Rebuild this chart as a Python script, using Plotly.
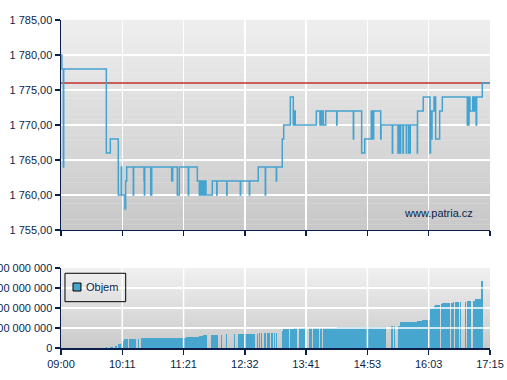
import plotly.graph_objects as go
import numpy as np

# ---------------- data ----------------
session_start = 540.0   # 09:00 in minutes from midnight
session_end = 1035.0    # 17:15
time_labels = ["09:00", "10:11", "11:21", "12:32", "13:41", "14:53", "16:03", "17:15"]
prev_close = 1776.0

price_time = [
    540.0, 541.0, 542.7, 543.1, 592.3, 596.9, 606.1, 609.6, 610.0, 613.8, 614.6, 615.8,
    623.4, 623.8, 635.8, 636.2, 636.6, 643.5, 643.9, 644.3, 644.7, 667.7, 668.1, 668.5,
    668.9, 674.2, 676.5, 686.9, 687.3, 697.3, 699.6, 700.4, 701.2, 702.0, 702.8, 703.6,
    704.4, 705.2, 706.0, 706.5, 707.3, 714.6, 719.7, 720.1, 731.2, 731.6, 746.9, 747.3,
    757.3, 757.7, 767.6, 775.7, 776.1, 788.4, 788.8, 795.3, 797.0, 804.6, 808.0, 808.8,
    809.3, 809.8, 810.3, 834.6, 838.8, 839.3, 840.3, 840.8, 842.6, 845.4, 858.1, 858.5,
    877.3, 877.7, 886.9, 890.4, 898.0, 898.6, 899.3, 900.0, 900.8, 908.9, 909.3, 922.3,
    922.7, 928.8, 929.4, 930.0, 930.6, 931.3, 932.0, 934.6, 935.0, 938.4, 938.8, 941.2,
    941.8, 942.4, 943.0, 951.1, 951.4, 958.0, 965.8, 966.4, 966.8, 967.3, 967.7, 968.1,
    970.4, 971.0, 971.6, 972.3, 976.9, 980.0, 1008.8, 1009.5, 1010.2, 1010.8, 1011.9, 1015.0,
    1015.5, 1016.2, 1016.8, 1017.5, 1018.2, 1019.0, 1019.6, 1026.1, 1035.0,
]
price_value = [
    1780, 1778, 1764, 1778, 1766, 1768, 1760, 1764, 1760, 1758, 1762, 1764,
    1760, 1764, 1762, 1760, 1764, 1760, 1764, 1760, 1764, 1762, 1764, 1762,
    1764, 1760, 1764, 1760, 1764, 1762, 1760, 1762, 1760, 1762, 1760, 1762,
    1760, 1762, 1760, 1762, 1760, 1762, 1760, 1762, 1760, 1762, 1760, 1762,
    1760, 1762, 1764, 1760, 1764, 1762, 1764, 1768, 1770, 1774, 1770, 1772,
    1770, 1772, 1770, 1772, 1770, 1772, 1770, 1772, 1770, 1772, 1770, 1772,
    1768, 1772, 1766, 1768, 1772, 1768, 1772, 1768, 1772, 1768, 1770, 1766,
    1770, 1766, 1770, 1766, 1770, 1766, 1770, 1766, 1770, 1766, 1770, 1766,
    1770, 1766, 1770, 1766, 1772, 1774, 1766, 1772, 1768, 1772, 1768, 1772,
    1774, 1772, 1774, 1768, 1772, 1774, 1770, 1774, 1770, 1774, 1772, 1774,
    1772, 1774, 1772, 1774, 1772, 1770, 1774, 1776, 1776,
]

# cumulative volume (Objem) blocks: start minute, end minute, value
vol_start = [
    591.6, 596.5, 602.3, 605.4, 608.9, 611.2, 612.7, 618.5, 628.5, 632.3, 684.2, 699.2,
    703.8, 712.7, 724.3, 730.0, 739.3, 743.9, 765.8, 768.1, 770.8, 774.2, 777.7, 782.7,
    786.1, 788.1, 795.0, 796.5, 804.2, 808.8, 814.3, 819.6, 822.3, 825.8, 827.3, 830.4,
    838.5, 842.3, 858.4, 920.8, 924.2, 928.8, 931.2, 950.8, 956.5, 965.8, 970.4, 971.9,
    978.5, 980.0, 990.0, 992.0, 994.6, 1000.0, 1006.2, 1008.5, 1015.4, 1017.7, 1024.6,
]
vol_end = [
    593.4, 600.3, 605.0, 608.9, 611.2, 612.7, 617.0, 626.2, 630.3, 684.2, 699.2, 703.8,
    708.1, 721.2, 725.4, 731.2, 740.4, 763.8, 767.6, 770.0, 772.3, 776.2, 781.5, 784.2,
    787.3, 789.2, 796.5, 803.1, 808.8, 812.6, 818.9, 821.2, 824.2, 826.9, 829.6, 837.3,
    841.1, 858.4, 915.0, 923.1, 925.4, 931.2, 950.8, 956.5, 965.8, 970.4, 971.9, 977.3,
    980.0, 988.8, 992.0, 993.8, 999.2, 1001.5, 1007.7, 1013.1, 1017.7, 1024.6, 1026.9,
]
vol_value = [
    10e6, 10e6, 20e6, 40e6, 53e6, 67e6, 87e6, 87e6, 87e6, 100e6, 110e6, 120e6,
    130e6, 130e6, 130e6, 140e6, 140e6, 140e6, 145e6, 150e6, 150e6, 150e6, 150e6, 150e6,
    150e6, 150e6, 173e6, 190e6, 190e6, 200e6, 200e6, 200e6, 200e6, 200e6, 200e6, 200e6,
    200e6, 200e6, 210e6, 220e6, 220e6, 220e6, 260e6, 270e6, 280e6, 400e6, 423e6, 430e6,
    443e6, 450e6, 450e6, 460e6, 460e6, 460e6, 460e6, 470e6, 470e6, 490e6, 670e6,
]
vol_ticks = [0, 200e6, 400e6, 600e6, 800e6]
legend_label = "Objem"
watermark = "www.patria.cz"

# ---------------- styling ----------------
NAVY = "#0b1f4a"
LINE_BLUE = "#45a3cf"
BAR_BLUE = "#47a6cd"
RED = "#c0302e"
FONT = "Liberation Sans, Arial, sans-serif"

tickvals = list(np.linspace(session_start, session_end, len(time_labels)))
vs = np.array(vol_start)
ve = np.array(vol_end)

fig = go.Figure()

fig.add_trace(go.Scatter(
    x=[session_start, session_end], y=[prev_close, prev_close], mode="lines",
    line=dict(color=RED, width=1.5), showlegend=False, hoverinfo="skip",
    xaxis="x", yaxis="y"))
fig.add_trace(go.Scatter(
    x=price_time, y=price_value, mode="lines", line_shape="hv",
    line=dict(color=LINE_BLUE, width=1.5), showlegend=False,
    xaxis="x", yaxis="y"))

fig.add_trace(go.Bar(
    x=(vs + ve) / 2, y=vol_value, width=ve - vs, name=legend_label,
    marker=dict(color=BAR_BLUE, line=dict(width=0)), showlegend=False,
    xaxis="x2", yaxis="y2"))

# background gradients
shapes = []
def gradient(xref, yref, c_top, c_bot, n=40):
    for i in range(n):
        f = i / (n - 1)
        c = [int(round(c_top[k] + (c_bot[k] - c_top[k]) * f)) for k in range(3)]
        shapes.append(dict(type="rect", xref=xref, yref=yref,
                           x0=0, x1=1, y0=1 - (i + 1) / n, y1=1 - i / n + 0.001,
                           fillcolor="rgb(%d,%d,%d)" % tuple(c), line=dict(width=0),
                           layer="below"))
gradient("x domain", "y domain", (238, 238, 238), (200, 200, 200))
gradient("x2 domain", "y2 domain", (240, 240, 240), (202, 202, 202))

# white grid lines drawn over the volume bars
for tv in tickvals[1:-1]:
    shapes.append(dict(type="line", xref="x2", yref="y2 domain", x0=tv, x1=tv, y0=0, y1=1,
                       line=dict(color="white", width=1.5), layer="above"))
for yv in vol_ticks[1:-1]:
    shapes.append(dict(type="line", xref="x2 domain", yref="y2", x0=0, x1=1, y0=yv, y1=yv,
                       line=dict(color="white", width=1.5), layer="above"))

# legend box (drawn by hand to match the compact original)
shapes.append(dict(type="rect", xref="x2 domain", yref="y2 domain",
                   x0=0.0093, x1=0.1508, y0=0.579, y1=0.934,
                   line=dict(color="black", width=1), fillcolor="rgba(0,0,0,0)", layer="above"))
shapes.append(dict(type="rect", xref="x2 domain", yref="y2 domain",
                   x0=0.028, x1=0.0466, y0=0.7125, y1=0.8125,
                   line=dict(color="black", width=1), fillcolor=BAR_BLUE, layer="above"))

axis_common = dict(showline=True, linecolor=NAVY, linewidth=1.5, ticks="outside",
                   tickcolor=NAVY, ticklen=5, tickwidth=1.5, showgrid=True,
                   gridcolor="white", gridwidth=1.5, zeroline=False,
                   tickfont=dict(family=FONT, size=11, color=NAVY))

fig.update_layout(
    width=507, height=380,
    margin=dict(l=61, r=17, t=20, b=32, autoexpand=False),
    paper_bgcolor="white", plot_bgcolor="rgba(0,0,0,0)",
    separators=", ",
    font=dict(family=FONT, size=11, color=NAVY),
    bargap=0,
    showlegend=False,
    hovermode=False,
    xaxis=dict(domain=[0, 1], anchor="y", range=[session_start, session_end],
               tickvals=tickvals, ticktext=time_labels, showticklabels=False,
               **axis_common),
    yaxis=dict(domain=[0.3598, 1], anchor="x", range=[1755, 1785], dtick=5,
               tickformat=",.2f", **axis_common),
    xaxis2=dict(domain=[0, 1], anchor="y2", range=[session_start, session_end],
                tickvals=tickvals, ticktext=time_labels, **axis_common),
    yaxis2=dict(domain=[0, 0.2439], anchor="x2", range=[0, 800e6], tickvals=vol_ticks,
                tickformat=",", **axis_common),
    shapes=shapes,
    annotations=[
        dict(text=watermark, xref="x domain", yref="y domain",
             x=0.879, y=0.08, xanchor="center", yanchor="middle", showarrow=False,
             font=dict(family=FONT, size=11, color=NAVY)),
        dict(text=legend_label, xref="x2 domain", yref="y2 domain",
             x=0.0536, y=0.7625, xanchor="left", yanchor="middle", showarrow=False,
             font=dict(family=FONT, size=11, color=NAVY)),
    ],
)

fig.write_html("out.html", config={"displayModeBar": False, "staticPlot": True},
               post_script="document.body.style.margin='0';document.body.style.overflow='hidden';")
